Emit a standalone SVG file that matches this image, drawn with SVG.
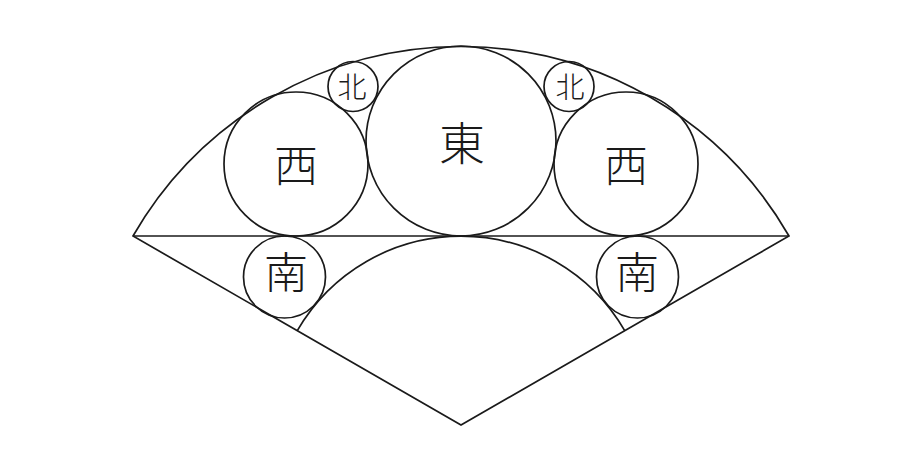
<svg xmlns="http://www.w3.org/2000/svg" width="920" height="454" viewBox="0 0 920 454">
<style>
.s{fill:none;stroke:#1a1a1a;stroke-width:1.7}
.t{font-family:"Noto Sans CJK JP","Noto Sans CJK SC",serif;font-weight:300;fill:#1a1a1a;text-anchor:middle;dominant-baseline:central}
</style>
<rect width="920" height="454" fill="#fff"/>
<g id="fan">
<path class="s" d="M461,425 L133,236 A378.6,378.6 0 0 1 789,236 Z"/>
<line class="s" x1="133" y1="236" x2="789" y2="236"/>
<path class="s" d="M297.3,330.7 A189,189 0 0 1 624.7,330.7"/>
</g>
<g id="east"><circle class="s" cx="461" cy="141" r="95"/><text class="t" x="462" y="140" font-size="46">東</text></g>
<g id="west-left"><circle class="s" cx="296" cy="164" r="72"/><text class="t" x="296" y="163" font-size="44">西</text></g>
<g id="west-right"><circle class="s" cx="626" cy="164" r="72"/><text class="t" x="626" y="163" font-size="44">西</text></g>
<g id="north-left"><circle class="s" cx="353" cy="86.5" r="25"/><text class="t" x="352" y="85" font-size="29">北</text></g>
<g id="north-right"><circle class="s" cx="569" cy="86.5" r="25"/><text class="t" x="570" y="85" font-size="29">北</text></g>
<g id="south-left"><circle class="s" cx="284.5" cy="277" r="41"/><text class="t" x="286" y="270" font-size="44">南</text></g>
<g id="south-right"><circle class="s" cx="637.5" cy="277" r="41"/><text class="t" x="637" y="270" font-size="44">南</text></g>
<g id="connectors"></g>
</svg>
